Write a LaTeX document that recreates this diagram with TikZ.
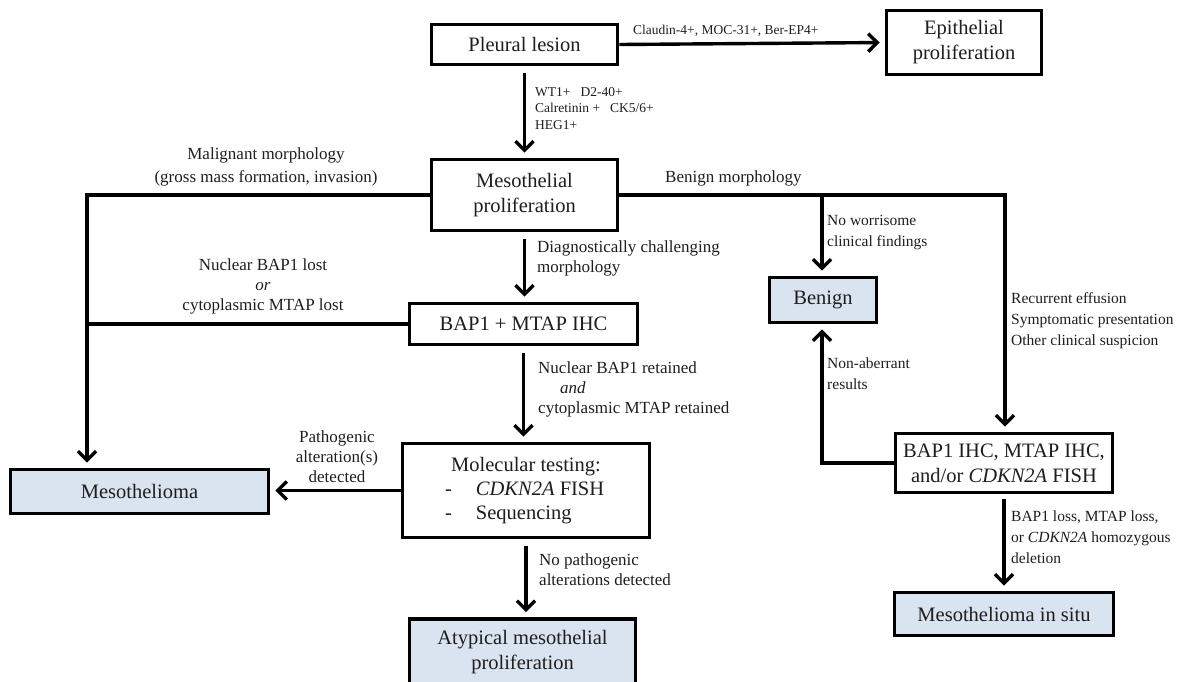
\documentclass[tikz,border=0pt]{standalone}
\usepackage{fontspec}
\setmainfont{Liberation Serif}
\usetikzlibrary{arrows.meta}
\definecolor{boxblue}{HTML}{DAE3F0}
\definecolor{txt}{HTML}{1E1E1E}
\newcommand\mainfs{\fontsize{20.5}{25}\selectfont}
\newcommand\lblfs{\fontsize{17}{20}\selectfont}
\newcommand\rlblfs{\fontsize{15.5}{21}\selectfont}
\newcommand\smlfs{\fontsize{13.5}{16.5}\selectfont}
\begin{document}
\begin{tikzpicture}[x=1pt,y=-1pt,
  box/.style={draw=black,line width=3.8pt,fill=white,inner sep=0pt,align=center,text=txt,font=\mainfs},
  endbox/.style={box,fill=boxblue},
  conn/.style={line width=3.4pt},
  arr/.style={conn,-{Straight Barb[length=9pt,width=18pt]},shorten >=5pt},
  varr/.style={arr,shorten <=7pt},
  lbl/.style={text=txt,font=\lblfs,inner sep=0pt},
  rlbl/.style={text=txt,font=\rlblfs,inner sep=0pt,align=left,anchor=west},
  slbl/.style={text=txt,font=\smlfs,inner sep=0pt,align=left,anchor=west}]
\useasboundingbox (0,0) rectangle (1179,681);

% boxes
\node[box,minimum width=186pt,minimum height=40pt] (pleural) at (524.5,44.5) {Pleural lesion};
\node[box,minimum width=155pt,minimum height=64pt] (epi) at (964,42.5) {Epithelial\\proliferation};
\node[box,minimum width=186pt,minimum height=71pt] (meso) at (524.5,195) {Mesothelial\\proliferation};
\node[box,minimum width=228pt,minimum height=41pt] (bapmtap) at (523.5,324) {BAP1 + MTAP IHC};
\node[box,minimum width=247pt,minimum height=94pt] (molec) at (526,490.5)
  {\begin{tabular}{@{}l@{\hspace{24pt}}l@{}}\multicolumn{2}{c}{Molecular testing:}\\[-1pt]
   - & \textit{CDKN2A} FISH\\[-1pt]
   - & Sequencing\end{tabular}};
\node[endbox,minimum width=258pt,minimum height=44pt] (mesoth) at (139.5,491.5) {Mesothelioma};
\node[endbox,minimum width=226pt,minimum height=66pt] (atyp) at (522.5,652) {Atypical mesothelial\\proliferation};
\node[endbox,minimum width=107pt,minimum height=45pt] (benign) at (823,300) {Benign};
\node[box,minimum width=217pt,minimum height=59pt] (bapihc) at (1004,463) {BAP1 IHC, MTAP IHC,\\and/or \textit{CDKN2A} FISH};
\node[endbox,minimum width=219pt,minimum height=43pt] (mis) at (1004,614) {Mesothelioma in situ};

% branch points
\coordinate (cL) at (87,195);
\coordinate (cB) at (822,195);
\coordinate (cR) at (1005,195);

% connectors
\draw[arr] (pleural.east) -- (epi.west);
\draw[varr] (pleural.south) -- (meso.north);
\draw[arr] (meso.west) -- (cL) -- (cL |- mesoth.north);
\draw[conn] (bapmtap.west) -- (bapmtap.west -| cL);
\draw[arr] (meso.east) -- (cR) -- (cR |- bapihc.north);
\draw[arr] (cB) -- (cB |- benign.north);
\draw[varr] (meso.south) -- (meso.south |- bapmtap.north);
\draw[varr] (bapmtap.south) -- (bapmtap.south |- molec.north);
\draw[arr] (molec.west) -- (molec.west -| mesoth.east);
\draw[varr] (molec.south) -- (molec.south |- atyp.north);
\draw[arr] (bapihc.west) -- (bapihc.west -| cB) -- (cB |- benign.south);
\draw[arr,shorten <=5pt] (bapihc.south) -- (bapihc.south |- mis.north);

% labels
\node[slbl] (l1) at (633,31) {Claudin-4+, MOC-31+, Ber-EP4+};
\node[slbl] (l2) at (535,108.5) {WT1+\hspace{10pt}D2-40+\\Calretinin +\hspace{10pt}CK5/6+\\HEG1+};
\node[lbl,align=center,font=\fontsize{17}{23}\selectfont] (l3) at (266,166.5) {Malignant morphology\\(gross mass formation, invasion)};
\node[lbl,anchor=west] (l4) at (665,178) {Benign morphology};
\node[lbl,align=center] (l5) at (263,286) {Nuclear BAP1 lost\\\textit{or}\\cytoplasmic MTAP lost};
\node[lbl,align=left,anchor=west] (l6) at (537,258) {Diagnostically challenging\\morphology};
\node[lbl,align=left,anchor=west] (l7) at (538,389) {Nuclear BAP1 retained\\\hspace{22pt}\textit{and}\\cytoplasmic MTAP retained};
\node[lbl,align=center] (l8) at (337,457) {Pathogenic\\alteration(s)\\detected};
\node[lbl,align=left,anchor=west] (l9) at (539,570) {No pathogenic\\alterations detected};
\node[rlbl] (l10) at (827,232.5) {No worrisome\\clinical findings};
\node[rlbl] (l11) at (827,373.5) {Non-aberrant\\results};
\node[rlbl] (l12) at (1011,321) {Recurrent effusion\\Symptomatic presentation\\Other clinical suspicion};
\node[rlbl] (l13) at (1011,537.5) {BAP1 loss, MTAP loss,\\or \textit{CDKN2A} homozygous\\deletion};
\end{tikzpicture}
\end{document}
